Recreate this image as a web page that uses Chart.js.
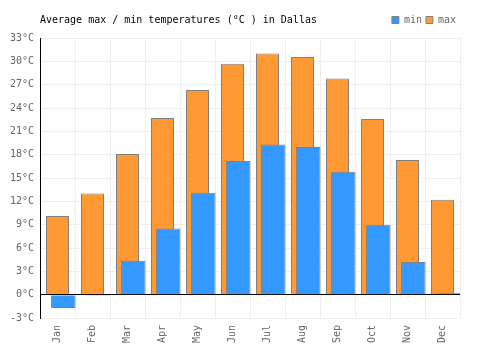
<!DOCTYPE html>
<html>
<head>
<meta charset="utf-8">
<script src="https://cdn.jsdelivr.net/npm/chart.js@4/dist/chart.umd.min.js"></script>
<style>
  html, body { margin: 0; padding: 0; background: #fff; }
  #wrap { width: 500px; height: 350px; }
</style>
</head>
<body>
<div id="wrap"><canvas id="tempChart" width="500" height="350"></canvas></div>
<script>
// values
const months = ["Jan","Feb","Mar","Apr","May","Jun","Jul","Aug","Sep","Oct","Nov","Dec"];
const minTemps = [-1.7, -0.15, 4.35, 8.5, 13.1, 17.2, 19.3, 19.0, 15.8, 9.0, 4.2, 0.25];
const maxTemps = [10.1, 13.0, 18.1, 22.7, 26.3, 29.7, 31.0, 30.55, 27.8, 22.6, 17.3, 12.2];
const titleText = "Average max / min temperatures (°C ) in Dallas";

const mono = '"DejaVu Sans Mono", monospace';
const minShift = 0.166; // min bars sit a bit to the right of max bars

// draws the title on the same row as the legend
const titlePlugin = {
  id: 'rowTitle',
  afterInit(chart) {
    // leave some room between the legend row and the plot
    const lg = chart.legend;
    const fit = lg.fit.bind(lg);
    lg.fit = function () { fit(); this.height += 3; };
  },
  afterDraw(chart) {
    const ctx = chart.ctx;
    ctx.save();
    ctx.font = '10px ' + mono;
    ctx.fillStyle = '#000';
    ctx.textBaseline = 'middle';
    ctx.textAlign = 'left';
    ctx.fillText(titleText, chart.chartArea.left, 20);
    ctx.restore();
  }
};

new Chart(document.getElementById("tempChart"), {
  type: 'bar',
  data: {
    labels: months,
    datasets: [
      {
        label: 'min',
        data: minTemps.map((v, i) => ({ x: i + minShift, y: v })),
        xAxisID: 'x2',
        backgroundColor: '#3399ff',
        borderColor: '#808080',
        borderWidth: 1,
        grouped: false,
        barPercentage: 0.7,
        categoryPercentage: 1,
        order: 0
      },
      {
        label: 'max',
        data: maxTemps,
        xAxisID: 'x',
        backgroundColor: '#ff9933',
        borderColor: '#808080',
        borderWidth: 1,
        grouped: false,
        barPercentage: 0.657,
        categoryPercentage: 1,
        order: 1
      }
    ]
  },
  options: {
    responsive: false,
    animation: false,
    layout: { padding: { top: 11, right: 40, left: 0, bottom: 0 } },
    plugins: {
      legend: {
        position: 'top',
        align: 'end',
        labels: {
          boxWidth: 7,
          boxHeight: 7,
          padding: 4,
          color: '#666',
          font: { family: mono, size: 10 }
        }
      },
      title: { display: false },
      tooltip: { enabled: false }
    },
    scales: {
      x: {
        type: 'category',
        offset: true,
        grid: { color: '#eeeeee', offset: true, drawTicks: false },
        border: { display: false },
        ticks: {
          color: '#666',
          font: { family: mono, size: 10 },
          maxRotation: 90,
          minRotation: 90,
          padding: 7
        },
        afterFit(scale) { scale.height = 32; }
      },
      x2: {
        type: 'linear',
        display: false,
        offset: false,
        min: -0.5,
        max: 11.5
      },
      y: {
        min: -3,
        max: 33,
        grid: {
          color: c => (c.tick && c.tick.value === 0) ? '#000' : '#eeeeee',
          drawTicks: false
        },
        border: { display: true, color: '#000' },
        ticks: {
          stepSize: 3,
          color: '#666',
          padding: 6,
          font: { family: mono, size: 10 },
          callback: v => v + '°C'
        },
        afterFit(scale) { scale.width = 40; }
      }
    }
  },
  plugins: [titlePlugin]
});
</script>
</body>
</html>
